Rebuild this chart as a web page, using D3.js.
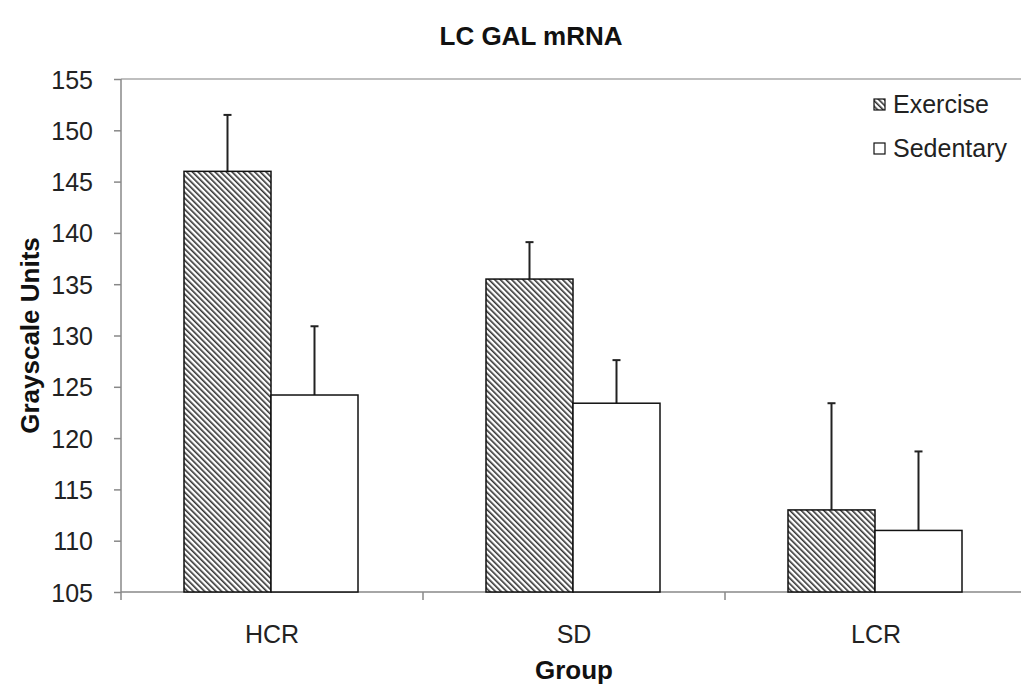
<!DOCTYPE html>
<html lang="en">
<head>
  <meta charset="UTF-8">
  <title>LC GAL mRNA</title>
  <style>
    body {
      margin: 0;
      padding: 0;
      background: #fff;
      font-family: Arial, "Liberation Sans", sans-serif;
    }
    .axis text {
      font-family: Arial, "Liberation Sans", sans-serif;
      font-size: 25px;
      fill: #222;
    }
    .axis path, .axis line {
      stroke: #888;
      stroke-width: 1.5;
    }
  </style>
</head>
<body>
  <svg id="chart" width="1021" height="690"></svg>
  <script src="https://d3js.org/d3.v7.min.js"></script>
  <script>
    const groups = ['HCR', 'SD', 'LCR'];
    const seriesNames = ['Exercise', 'Sedentary'];
    const exerciseMean = [146.0, 135.5, 113.0];
    const exerciseErr = [5.5, 3.6, 10.4];
    const sedentaryMean = [124.2, 123.4, 111.0];
    const sedentaryErr = [6.7, 4.2, 7.7];
    const yTicks = [105, 110, 115, 120, 125, 130, 135, 140, 145, 150, 155];

    const margin = { top: 79, left: 121, bottom: 98 };
    const width = 906;
    const height = 690 - margin.top - margin.bottom;

    const svg = d3.select('#chart');

    // hatch pattern for exercise bars
    const defs = svg.append('defs');
    const pat = defs.append('pattern')
      .attr('id', 'hatch')
      .attr('patternUnits', 'userSpaceOnUse')
      .attr('width', 4)
      .attr('height', 4)
      .attr('patternTransform', 'rotate(-45)');
    pat.append('rect').attr('width', 4).attr('height', 4).attr('fill', '#fff');
    pat.append('rect').attr('x', 0).attr('width', 1.6).attr('height', 4).attr('fill', '#333');

    const g = svg.append('g')
      .attr('transform', `translate(${margin.left}, ${margin.top})`);

    const x0 = d3.scaleBand()
      .domain(groups)
      .range([0, width])
      .paddingInner(0)
      .paddingOuter(0);

    const x1 = d3.scaleBand()
      .domain(seriesNames)
      .range([63, x0.bandwidth() - 65]);

    const y = d3.scaleLinear()
      .domain([105, 155])
      .range([height, 0]);

    // top frame line
    g.append('line')
      .attr('x1', 0).attr('x2', width)
      .attr('y1', 0).attr('y2', 0)
      .attr('stroke', '#aaa')
      .attr('stroke-width', 1.5);

    const yAxis = g.append('g')
      .attr('class', 'axis')
      .call(d3.axisLeft(y).tickValues(yTicks).tickSize(7).tickPadding(21));
    yAxis.select('.domain').attr('d', `M0,${height}V0`);
    yAxis.selectAll('text').attr('dy', '0.36em');

    const xAxis = g.append('g')
      .attr('class', 'axis')
      .attr('transform', `translate(0, ${height})`)
      .call(d3.axisBottom(x0).tickSize(0).tickPadding(33));
    xAxis.select('.domain').attr('d', `M0,0H${width}`);
    // boundary ticks between groups
    xAxis.selectAll('.bound')
      .data(d3.range(groups.length + 1))
      .enter()
      .append('line')
      .attr('class', 'bound')
      .attr('x1', i => i * x0.bandwidth())
      .attr('x2', i => i * x0.bandwidth())
      .attr('y1', 0)
      .attr('y2', 8);

    const data = groups.map((grp, i) => ({
      group: grp,
      values: [
        { series: 'Exercise', mean: exerciseMean[i], err: exerciseErr[i] },
        { series: 'Sedentary', mean: sedentaryMean[i], err: sedentaryErr[i] }
      ]
    }));

    const grp = g.selectAll('.grp')
      .data(data)
      .enter()
      .append('g')
      .attr('class', 'grp')
      .attr('transform', d => `translate(${x0(d.group)}, 0)`);

    // error bars (upper only)
    grp.selectAll('.err')
      .data(d => d.values)
      .enter()
      .append('line')
      .attr('class', 'err')
      .attr('x1', d => x1(d.series) + x1.bandwidth() / 2)
      .attr('x2', d => x1(d.series) + x1.bandwidth() / 2)
      .attr('y1', d => y(d.mean))
      .attr('y2', d => y(d.mean + d.err))
      .attr('stroke', '#222')
      .attr('stroke-width', 2);

    grp.selectAll('.cap')
      .data(d => d.values)
      .enter()
      .append('line')
      .attr('class', 'cap')
      .attr('x1', d => x1(d.series) + x1.bandwidth() / 2 - 4)
      .attr('x2', d => x1(d.series) + x1.bandwidth() / 2 + 4)
      .attr('y1', d => y(d.mean + d.err))
      .attr('y2', d => y(d.mean + d.err))
      .attr('stroke', '#222')
      .attr('stroke-width', 2);

    // bars
    grp.selectAll('.bar')
      .data(d => d.values)
      .enter()
      .append('rect')
      .attr('class', 'bar')
      .attr('x', d => x1(d.series))
      .attr('y', d => y(d.mean))
      .attr('width', x1.bandwidth())
      .attr('height', d => height - y(d.mean))
      .attr('fill', d => d.series === 'Exercise' ? 'url(#hatch)' : '#fff')
      .attr('stroke', '#111')
      .attr('stroke-width', 1.5);

    // legend
    const legend = svg.append('g')
      .attr('transform', 'translate(874, 113)');
    const li = legend.selectAll('.li')
      .data(seriesNames)
      .enter()
      .append('g')
      .attr('transform', (d, i) => `translate(0, ${i * 44})`);
    li.append('rect')
      .attr('y', -14)
      .attr('width', 11)
      .attr('height', 11)
      .attr('fill', d => d === 'Exercise' ? 'url(#hatch)' : '#fff')
      .attr('stroke', '#111')
      .attr('stroke-width', 1.2);
    li.append('text')
      .attr('x', 19)
      .attr('y', 0)
      .style('font-size', '25px')
      .style('fill', '#222')
      .text(d => d);

    // title
    svg.append('text')
      .attr('x', 531)
      .attr('y', 45)
      .attr('text-anchor', 'middle')
      .style('font-size', '26px')
      .style('font-weight', 'bold')
      .style('fill', '#111')
      .text('LC GAL mRNA');

    // axis labels
    svg.append('text')
      .attr('transform', `translate(39, ${margin.top + height / 2}) rotate(-90)`)
      .attr('text-anchor', 'middle')
      .style('font-size', '26px')
      .style('font-weight', 'bold')
      .style('fill', '#111')
      .text('Grayscale Units');

    svg.append('text')
      .attr('x', 574)
      .attr('y', 679)
      .attr('text-anchor', 'middle')
      .style('font-size', '26px')
      .style('font-weight', 'bold')
      .style('fill', '#111')
      .text('Group');
  </script>
</body>
</html>
